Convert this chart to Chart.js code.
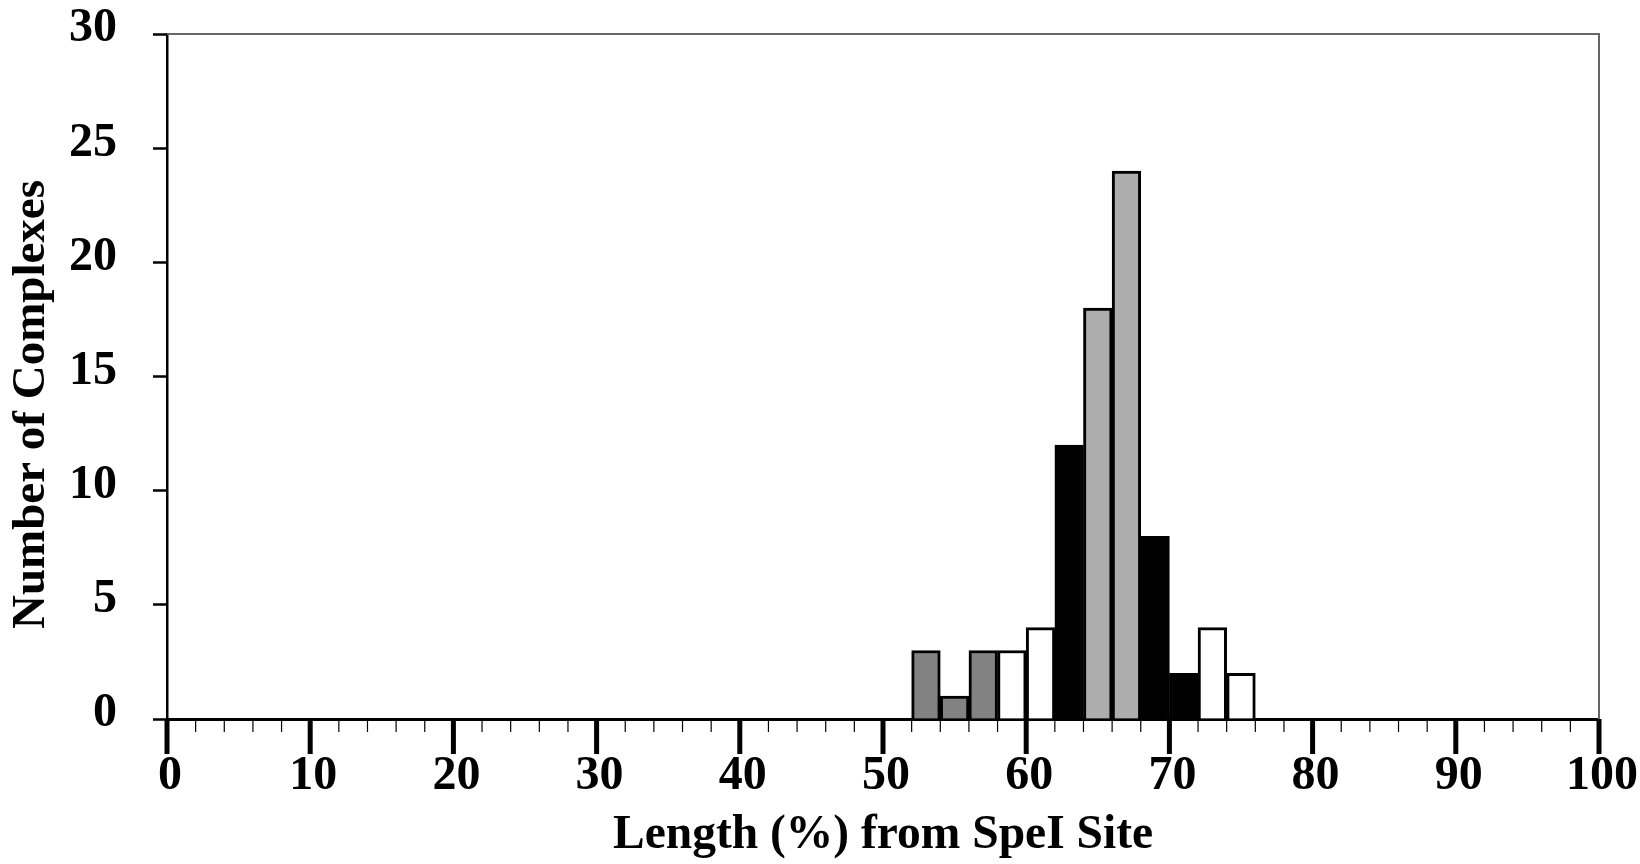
<!DOCTYPE html>
<html>
<head>
<meta charset="utf-8">
<script src="https://cdn.jsdelivr.net/npm/chart.js@4.4.1/dist/chart.umd.min.js"></script>
<style>
    html, body { margin: 0; padding: 0; background: #ffffff; }
    #wrap { width: 1640px; height: 864px; }
</style>
</head>
<body>
<div id="wrap"><canvas id="histChart"></canvas></div>
<script>
// ================= DATA =================
const binCenters = [53, 55, 57, 59, 61, 63, 65, 67, 69, 71, 73, 75];
const complexCounts = [3, 1, 3, 3, 4, 12, 18, 24, 8, 2, 4, 2];
const barColors = ["#828282", "#828282", "#828282", "#ffffff", "#ffffff", "#000000",
                   "#adadad", "#adadad", "#000000", "#000000", "#ffffff", "#ffffff"];
const xTickLabels = [0, 10, 20, 30, 40, 50, 60, 70, 80, 90, 100];
const yTickLabels = [0, 5, 10, 15, 20, 25, 30];
const yTitle = "Number of Complexes";
const xTitle = "Length (%) from SpeI Site";

const FONT = "'Liberation Serif', 'Times New Roman', serif";

// ================= X TICKS, FRAME, TITLES =================
// major ticks long/thick, minor ticks short/thin, drawn from scale positions
const axisDecor = {
    id: "axisDecor",
    afterDraw(chart) {
        const ctx = chart.ctx;
        const area = chart.chartArea;
        const xs = chart.scales.x;

        ctx.save();
        // thin grey frame on top and right
        ctx.strokeStyle = "#666";
        ctx.lineWidth = 2;
        ctx.beginPath();
        ctx.moveTo(area.left, area.top);
        ctx.lineTo(area.right, area.top);
        ctx.lineTo(area.right, area.bottom);
        ctx.stroke();

        ctx.strokeStyle = "#000";
        xs.ticks.forEach(t => {
            const px = xs.getPixelForValue(t.value);
            const major = xTickLabels.includes(t.value);
            ctx.lineWidth = major ? 5 : 1.2;
            ctx.beginPath();
            ctx.moveTo(px, area.bottom);
            ctx.lineTo(px, area.bottom + (major ? 35 : 13));
            ctx.stroke();
        });

        // axis titles
        ctx.fillStyle = "#000";
        ctx.textAlign = "center";

        ctx.font = "bold 47.5px " + FONT;
        ctx.textBaseline = "alphabetic";
        ctx.fillText(xTitle, (area.left + area.right) / 2, chart.height - 16);

        // y title sits a little below the middle of the axis
        ctx.font = "bold 47px " + FONT;
        ctx.textBaseline = "middle";
        ctx.translate(32, (area.top + area.bottom) / 2 + 28);
        ctx.rotate(-Math.PI / 2);
        ctx.fillText(yTitle, 0, 0);
        ctx.restore();
    }
};

new Chart(document.getElementById("histChart"), {
    type: "bar",
    data: {
        datasets: [{
            data: binCenters.map((c, i) => ({ x: c, y: complexCounts[i] })),
            backgroundColor: barColors,
            borderColor: "#000000",
            borderWidth: 3,
            barPercentage: 1.0,
            categoryPercentage: 1.0
        }]
    },
    options: {
        responsive: true,
        maintainAspectRatio: false,
        animation: false,
        layout: { padding: { top: 34, right: 41, left: 0, bottom: 0 } },
        plugins: {
            legend: { display: false },
            tooltip: { enabled: false }
        },
        scales: {
            x: {
                type: "linear",
                min: 0,
                max: 100,
                offset: false,
                border: { display: true, color: "#000", width: 3 },
                grid: { display: false, drawTicks: false },
                ticks: {
                    stepSize: 2,
                    autoSkip: false,
                    maxRotation: 0,
                    padding: 29,
                    labelOffset: 3,
                    color: "#000",
                    font: { family: FONT, size: 48, weight: "bold" },
                    callback: v => xTickLabels.includes(v) ? String(v) : ""
                },
                afterFit(scale) {
                    scale.height = 145;
                    scale.paddingLeft = 0;
                    scale.paddingRight = 0;
                }
            },
            y: {
                min: 0,
                max: 30,
                border: { display: true, color: "#000", width: 2.5 },
                grid: {
                    drawOnChartArea: false,
                    drawTicks: true,
                    tickLength: 14,
                    tickWidth: 2.5,
                    tickColor: "#000"
                },
                ticks: {
                    stepSize: 5,
                    padding: 36,
                    labelOffset: -5,
                    color: "#000",
                    font: { family: FONT, size: 48, weight: "bold" },
                    callback: v => yTickLabels.includes(v) ? String(v) : ""
                },
                afterFit(scale) {
                    scale.width = 167;
                    scale.paddingTop = 0;
                    scale.paddingBottom = 0;
                }
            }
        }
    },
    plugins: [axisDecor]
});
</script>
</body>
</html>
